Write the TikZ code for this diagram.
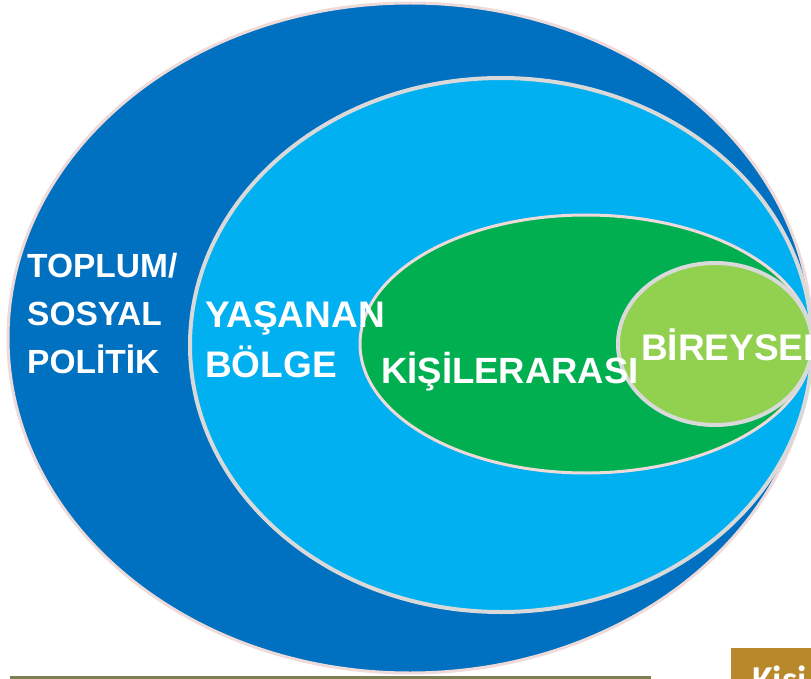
\documentclass[tikz,border=0pt]{standalone}
\usepackage{fontspec}
\setmainfont{Liberation Sans}
\newfontfamily\carlito{Carlito}
\definecolor{darkblue}{HTML}{0070C0}
\definecolor{lightblue}{HTML}{00B0F0}
\definecolor{darkgreen}{HTML}{00B050}
\definecolor{lightgreen}{HTML}{92D050}
\definecolor{pinkline}{HTML}{EFDADA}
\definecolor{grayline}{HTML}{D9D9D9}
\definecolor{olive}{HTML}{7F7F57}
\definecolor{gold}{HTML}{B8892B}
\tikzset{
  lbl/.style={text=white, font=\bfseries, anchor=base west, inner sep=0pt},
}
\begin{document}
\begin{tikzpicture}[x=1pt,y=-1pt]
\useasboundingbox (0,0) rectangle (811,679);
\clip (0,0) rectangle (811,679);
\fill[darkblue, draw=pinkline, line width=3pt] (410,338) ellipse [x radius=402pt, y radius=335pt];
\fill[lightblue, draw=grayline, line width=4pt] (501,345) ellipse [x radius=311pt, y radius=267pt];
\fill[darkgreen, draw=pinkline, line width=3pt] (586,344) ellipse [x radius=226pt, y radius=129pt];
\fill[lightgreen, draw=grayline, line width=4pt] (715,344) ellipse [x radius=97pt, y radius=81pt];
\node[lbl, font=\fontsize{33.5}{40}\selectfont\bfseries] (t1) at (27,277) {TOPLUM/};
\node[lbl, font=\fontsize{33.5}{40}\selectfont\bfseries] (t2) at (27,325) {SOSYAL};
\node[lbl, font=\fontsize{33.5}{40}\selectfont\bfseries] (t3) at (27,373) {POL\.{I}T\.{I}K};
\node[lbl, font=\fontsize{37}{44}\selectfont\bfseries] (y1) at (205,327) {YAŞANAN};
\node[lbl, font=\fontsize{37}{44}\selectfont\bfseries] (y2) at (205,377) {BÖLGE};
\node[lbl, font=\fontsize{36.5}{44}\selectfont\bfseries] (k1) at (381,383) {K\.{I}Ş\.{I}LERARASI};
\node[lbl, font=\fontsize{37}{44}\selectfont\bfseries] (b1) at (641,360) {B\.{I}REYSEL};
\fill[olive] (10,676) rectangle (651,680);
\fill[gold] (731,648) rectangle (812,680);
\node[lbl, font=\carlito\fontsize{38}{44}\selectfont\bfseries] (ks) at (752,692) {Kişi};
\end{tikzpicture}
\end{document}
